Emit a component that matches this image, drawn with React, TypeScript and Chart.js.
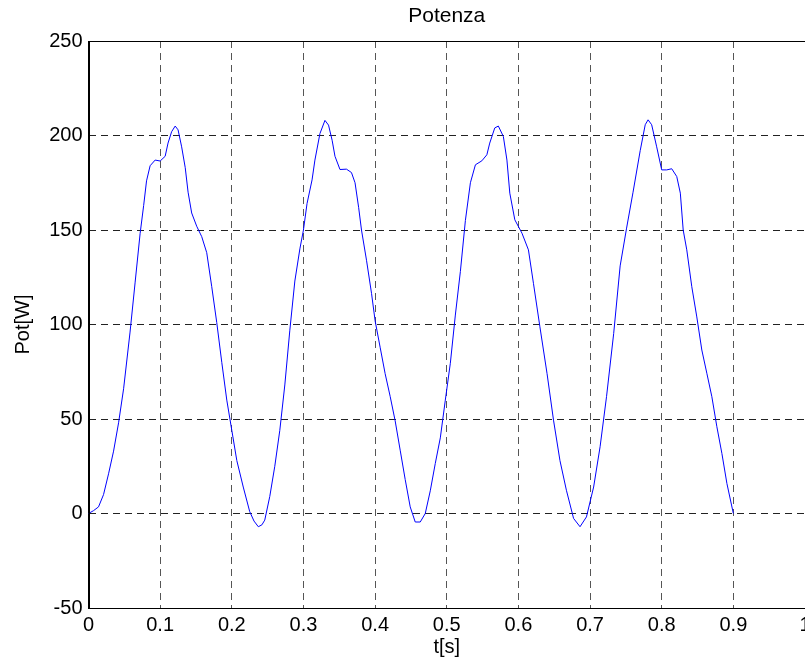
import React, { useEffect, useRef } from "react";
import { Chart, registerables } from "chart.js";

Chart.register(...registerables);

const titleText = "Potenza";
const xTitle = "t[s]";
const yTitle = "Pot[W]";

const times = [
  0, 0.007, 0.014, 0.021, 0.028, 0.035, 0.042, 0.049, 0.058, 0.065, 0.072, 0.077, 0.081, 0.086, 0.093,
  0.1, 0.107, 0.111, 0.116, 0.121, 0.125, 0.13, 0.135, 0.139, 0.144, 0.151, 0.158, 0.165, 0.172, 0.179,
  0.186, 0.193, 0.2, 0.207, 0.216, 0.225, 0.231, 0.237, 0.242, 0.246, 0.253, 0.26, 0.267, 0.274, 0.281,
  0.288, 0.295, 0.3, 0.305, 0.312, 0.316, 0.323, 0.33, 0.335, 0.34, 0.344, 0.351, 0.36, 0.367, 0.372,
  0.377, 0.381, 0.388, 0.395, 0.4, 0.407, 0.414, 0.421, 0.428, 0.435, 0.442, 0.449, 0.456, 0.463, 0.47,
  0.477, 0.484, 0.491, 0.498, 0.505, 0.512, 0.519, 0.526, 0.533, 0.54, 0.549, 0.556, 0.56, 0.567, 0.572,
  0.579, 0.584, 0.588, 0.595, 0.605, 0.614, 0.621, 0.63, 0.64, 0.649, 0.658, 0.667, 0.677, 0.686, 0.695,
  0.705, 0.714, 0.723, 0.733, 0.742, 0.751, 0.76, 0.77, 0.777, 0.781, 0.786, 0.793, 0.8, 0.807, 0.814,
  0.821, 0.826, 0.83, 0.835, 0.842, 0.849, 0.856, 0.863, 0.87, 0.877, 0.884, 0.891, 0.9,
];

const power = [
  0, 1.5, 3.5, 10, 21, 33, 48, 66, 96, 122, 148, 163, 176, 184, 187,
  186.5, 189, 196, 202, 205, 203, 194, 183, 170, 159, 152, 146.5, 138, 120, 101,
  80, 60, 44, 28, 14, 1, -4, -7, -6, -3.5, 9, 25, 44, 68, 97,
  123, 140, 150, 164, 176.5, 187, 201, 208, 205.5, 197.5, 189, 182, 182.2, 180.4, 175,
  162, 150, 134, 116.5, 102, 88, 74, 62, 49, 33.5, 18, 3.5, -4.5, -4.5, 0,
  12, 26.5, 40, 60, 79.5, 105, 128, 155, 175, 184.5, 186.6, 189.8, 196, 204, 205,
  199.5, 187, 169.5, 155.4, 148.3, 139.5, 121.8, 98.8, 74, 49.4, 28, 12.3, -2.6, -7, -1.8,
  14, 35.3, 61.8, 95.3, 131, 151, 170, 192, 205.7, 208.3, 205.7, 194, 181.8, 181.8, 182.4,
  178.3, 169.5, 150, 139.5, 120, 104, 86.5, 74.2, 61.8, 45.9, 31.8, 15.9, 0,
];

const xMin = 0;
const xMax = 1;
const xStep = 0.1;
const yMin = -50;
const yMax = 250;
const yStep = 50;

const FONT = "'Liberation Sans', Arial, Helvetica, sans-serif";

export default function App() {
  const ref = useRef<HTMLCanvasElement | null>(null);

  useEffect(() => {
    if (!ref.current) return;
    const framePlugin = {
      id: "frame",
      afterDraw(chart: any) {
        const { ctx, chartArea } = chart;
        const { left, right, top, bottom } = chartArea;
        ctx.save();
        ctx.strokeStyle = "#000";
        ctx.lineWidth = 1;
        ctx.setLineDash([]);
        ctx.strokeRect(Math.round(left) + 0.5, Math.round(top) + 0.5, Math.round(right - left) + 4, Math.round(bottom - top));
        ctx.fillStyle = "#000";
        ctx.font = `21px ${FONT}`;
        ctx.textAlign = "center";
        ctx.textBaseline = "middle";
        ctx.fillText(titleText, (left + right) / 2, 16);
        ctx.restore();
      },
    };

    const chart = new Chart(ref.current, {
      type: "line",
      data: {
        datasets: [
          {
            data: times.map((t, i) => ({ x: t, y: power[i] })),
            borderColor: "#0000ff",
            borderWidth: 1,
            pointRadius: 0,
            tension: 0,
            fill: false,
          },
        ],
      },
      options: {
        responsive: false,
        animation: false,
        devicePixelRatio: 1,
        layout: { padding: { left: 0, right: 89, top: 41, bottom: 0 } },
        plugins: {
          legend: { display: false },
          tooltip: { enabled: false },
          title: { display: false },
        },
        scales: {
          x: {
            type: "linear",
            min: xMin,
            max: xMax,
            afterFit(scale: any) {
              scale.height = 57;
            },
            ticks: {
              stepSize: xStep,
              autoSkip: false,
              maxRotation: 0,
              padding: 5,
              color: "#000",
              font: { family: FONT, size: 20 },
              callback: (v: any) => String(Math.round(Number(v) * 10) / 10),
            },
            grid: {
              color: (c: any) => (c.tick && Math.abs(c.tick.value - xMax) < 1e-9 ? "rgba(0,0,0,0)" : "#555"),
              lineWidth: 1,
              drawTicks: false,
            },
            border: { display: true, color: "#000", width: 1, dash: [7, 5] },
            title: {
              display: true,
              text: xTitle,
              color: "#000",
              font: { family: FONT, size: 20 },
              padding: { top: 0, bottom: 6 },
            },
          },
          y: {
            type: "linear",
            min: yMin,
            max: yMax,
            afterFit(scale: any) {
              scale.width = 88.5;
            },
            ticks: {
              stepSize: yStep,
              padding: 6,
              color: "#000",
              font: { family: FONT, size: 20 },
            },
            grid: { color: "#222", lineWidth: 1, drawTicks: false },
            border: { display: true, color: "#000", width: 1, dash: [7, 5] },
            title: {
              display: true,
              text: yTitle,
              color: "#000",
              font: { family: FONT, size: 20 },
              padding: { top: 11, bottom: 0 },
            },
          },
        },
      },
      plugins: [framePlugin],
    });
    return () => chart.destroy();
  }, []);

  return (
    <div
      style={{
        position: "fixed",
        left: 0,
        top: 0,
        width: 805,
        height: 665,
        overflow: "hidden",
        background: "#fff",
      }}
    >
      <canvas ref={ref} width={894} height={665} style={{ display: "block", width: 894, height: 665 }} />
    </div>
  );
}
